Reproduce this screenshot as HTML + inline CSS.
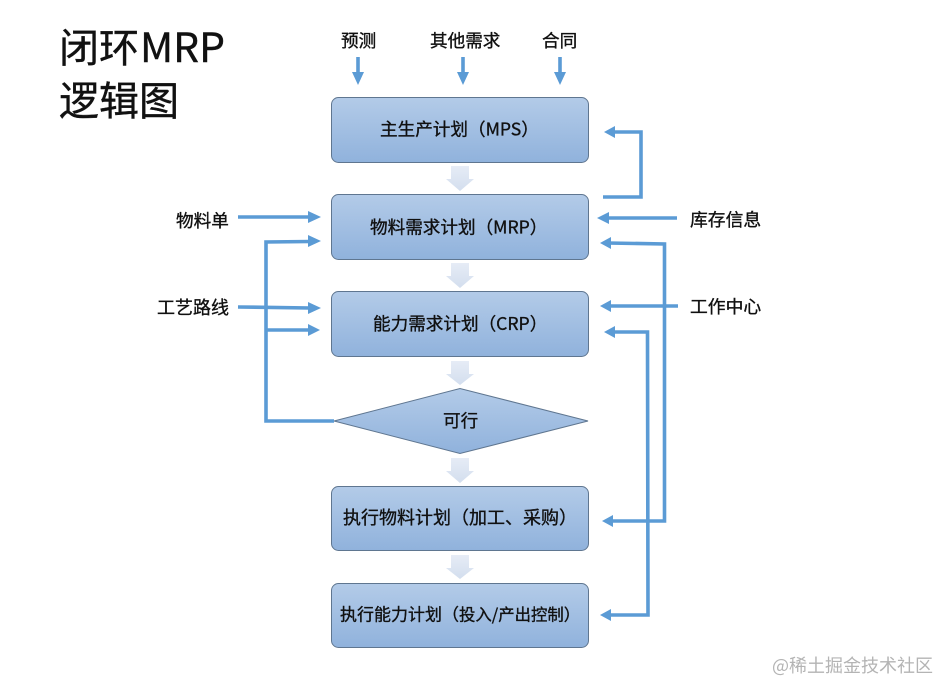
<!DOCTYPE html>
<html>
<head>
<meta charset="utf-8">
<style>
html,body{margin:0;padding:0;background:#fff;width:939px;height:682px;overflow:hidden}
svg{display:block}
text{font-family:"Noto Sans CJK SC","Liberation Sans",sans-serif;fill:#111}
.l{font-size:17.6px;stroke:#111;stroke-width:.35px}
.t{font-size:40px;stroke:#111;stroke-width:.4px}
.c{stroke:#5b9bd5;stroke-width:3.6;fill:none}
.h{fill:#5b9bd5}
.b{stroke:#5f7690;stroke-width:1;fill:url(#g)}
.p{fill:url(#p)}
</style>
</head>
<body>
<svg width="939" height="682" viewBox="0 0 939 682" xmlns="http://www.w3.org/2000/svg">
<defs>
<linearGradient id="g" x1="0" y1="0" x2="0" y2="1"><stop offset="0" stop-color="#b3cbe8"/><stop offset="1" stop-color="#90b2dc"/></linearGradient>
<linearGradient id="p" x1="0" y1="0" x2="0" y2="1"><stop offset="0" stop-color="#e6ecf6"/><stop offset="1" stop-color="#d3deee"/></linearGradient>
</defs>

<text class="t" x="59" y="62">闭环</text>
<text class="t" x="140" y="62" textLength="85" lengthAdjust="spacingAndGlyphs">MRP</text>
<text class="t" x="59" y="115">逻辑图</text>

<rect class="b" x="331.5" y="97.5" width="257" height="65" rx="7"/>
<rect class="b" x="331.5" y="194.5" width="257" height="65" rx="7"/>
<rect class="b" x="331.5" y="291.5" width="257" height="65" rx="7"/>
<polygon class="b" points="334,421 460,388.5 588,421 460,453.5"/>
<rect class="b" x="331.5" y="486.5" width="257" height="64" rx="7"/>
<rect class="b" x="331.5" y="583.5" width="257" height="64" rx="7"/>

<polygon class="p" points="451,166 469,166 469,179 474,179 460,191 446,179 451,179"/>
<polygon class="p" points="451,263 469,263 469,276 474,276 460,288 446,276 451,276"/>
<polygon class="p" points="451,361 469,361 469,374 474,374 460,385 446,374 451,374"/>
<polygon class="p" points="451,458 469,458 469,471 474,471 460,483 446,471 451,471"/>
<polygon class="p" points="451,555 469,555 469,568 474,568 460,579 446,568 451,568"/>

<!-- top inputs -->
<path class="c" d="M358,57V75M463,57V75M560,57V75"/>
<polygon class="h" points="352,72 364,72 358,85"/>
<polygon class="h" points="457,72 469,72 463,85"/>
<polygon class="h" points="554,72 566,72 560,85"/>

<!-- left inputs -->
<path class="c" d="M238,217H310"/>
<polygon class="h" points="308,211 308,223 321,217"/>
<path class="c" d="M238,307L310,308"/>
<polygon class="h" points="308,302 308,314 321,308"/>
<path class="c" d="M334,421H266V242L310,241.500"/>
<polygon class="h" points="308,235 308,247 321,241"/>
<path class="c" d="M266,330H310"/>
<polygon class="h" points="308,324 308,336 320,330"/>

<!-- right side -->
<path class="c" d="M603,197H641V132H612"/>
<polygon class="h" points="604,132 615,126 615,138"/>
<path class="c" d="M677,218H607"/>
<polygon class="h" points="597,218 609,212 609,224"/>
<path class="c" d="M607,243L664.500,244V521H610"/>
<polygon class="h" points="600,243 611,237 611,249"/>
<polygon class="h" points="602,521 613,515 613,527"/>
<path class="c" d="M678,306H608"/>
<polygon class="h" points="600,306 611,300 611,312"/>
<path class="c" d="M612,332H647.500L648,615H610"/>
<polygon class="h" points="604,332 615,326 615,338"/>
<polygon class="h" points="600,615 611,609 611,621"/>

<!-- box labels -->
<text class="l" x="380" y="135.500">主生产计划（MPS）</text>
<text class="l" x="370" y="233.500">物料需求计划（MRP）</text>
<text class="l" x="373" y="330">能力需求计划（CRP）</text>
<text class="l" x="443" y="427">可行</text>
<text class="l" x="343" y="524" style="font-size:18px">执行物料计划（加工、采购）</text>
<text class="l" x="340" y="620.500" style="font-size:17px">执行能力计划（<tspan style="font-size:16.400px">投入/产出控制）</tspan></text>

<!-- outer labels -->
<text class="l" x="341" y="47">预测</text>
<text class="l" x="430" y="47">其他需求</text>
<text class="l" x="542" y="47">合同</text>
<text class="l" x="176" y="227">物料单</text>
<text class="l" x="157" y="314" style="font-size:18px">工艺路线</text>
<text class="l" x="690" y="226" style="font-size:17.800px">库存信息</text>
<text class="l" x="690" y="313" style="font-size:17.800px">工作中心</text>

<text x="772" y="672" font-size="18" style="fill:#b4b4b4">@稀土掘金技术社区</text>
</svg>
</body>
</html>
